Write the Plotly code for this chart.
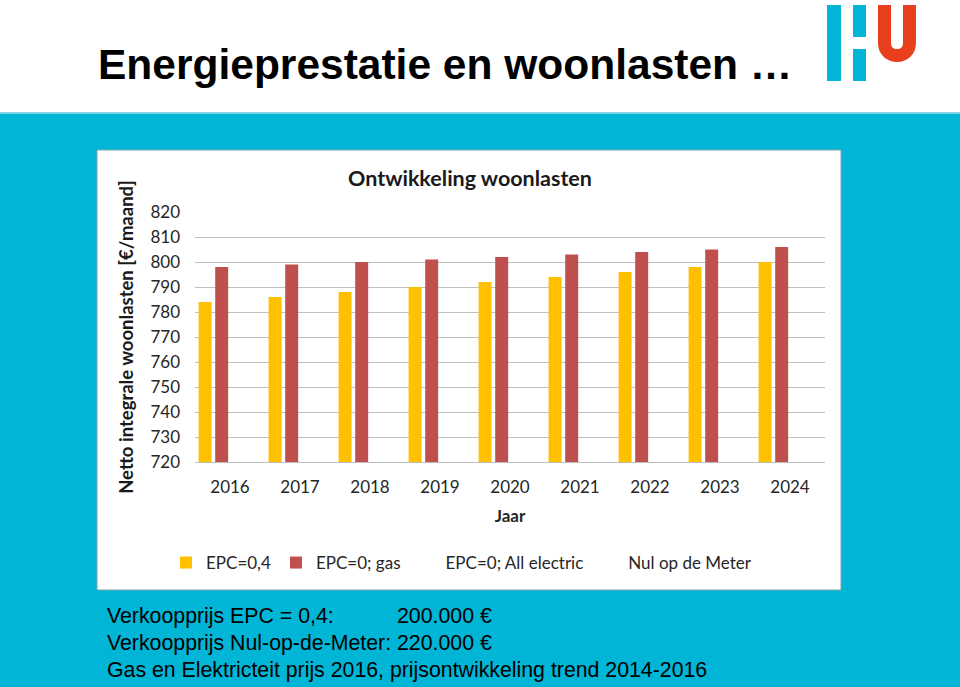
import plotly.graph_objects as go

# data
years = ["2016", "2017", "2018", "2019", "2020", "2021", "2022", "2023", "2024"]
epc_04 = [784, 786, 788, 790, 792, 794, 796, 798, 800]
epc_0_gas = [798, 799, 800, 801, 802, 803, 804, 805, 806]
epc_0_all_electric = [None] * 9  # in legend, no values in the chart
nul_op_de_meter = [None] * 9  # in legend, no values in the chart

y_ticks = [720, 730, 740, 750, 760, 770, 780, 790, 800, 810, 820]

W, H = 960, 687
CYAN = "#00B5D5"
HU_RED = "#E8401C"
CHART_FONT = "Lato"
SLIDE_FONT = "Liberation Sans, Arial"


def px_x(x):
    # pixel -> paper coordinate (margins are zero so paper == whole page)
    return x / W


def px_y(y):
    return 1 - y / H


def rect(x0, y0, x1, y1, color, line_color=None, layer="below"):
    return dict(
        type="rect", xref="paper", yref="paper",
        x0=px_x(x0), x1=px_x(x1), y0=px_y(y1), y1=px_y(y0),
        fillcolor=color,
        line=dict(color=line_color or color, width=1 if line_color else 0),
        layer=layer,
    )


series = [
    ("EPC=0,4", epc_04, "#FFC000"),
    ("EPC=0; gas", epc_0_gas, "#C0504D"),
    ("EPC=0; All electric", epc_0_all_electric, "rgba(0,0,0,0)"),
    ("Nul op de Meter", nul_op_de_meter, "rgba(0,0,0,0)"),
]

fig = go.Figure()
for name, values, color in series:
    fig.add_trace(go.Bar(x=years, y=values, name=name, marker_color=color, marker_line_width=0))

shapes = [
    # white header band
    rect(0, 0, W, 112, "white"),
    rect(0, 112, W, 114, "#7fd3e6"),
    # white chart box with thin border
    rect(97, 150, 841, 590, "white", line_color="#7fa6ab"),
    # HU logo
    rect(827, 5, 841, 81, CYAN, layer="above"),
    rect(853, 5, 866, 37, CYAN, layer="above"),
    rect(853, 49, 866, 81, CYAN, layer="above"),
]

# the red U of the logo as a thick stroked path
u_pts = [(884.5, 5), (884.5, 43), (884.5, 59.7), (909.5, 59.7), (909.5, 43), (909.5, 5)]
p = [f"{px_x(a):.5f},{px_y(b):.5f}" for a, b in u_pts]
u_path = f"M{p[0]} L{p[1]} C{p[2]} {p[3]} {p[4]} L{p[5]}"
shapes.append(dict(type="path", xref="paper", yref="paper", path=u_path,
                   line=dict(color=HU_RED, width=13), layer="above"))

annotations = [
    dict(text="<b>Energieprestatie en woonlasten …</b>", x=px_x(96), y=px_y(64),
         xanchor="left", yanchor="middle", font=dict(family=SLIDE_FONT, size=42.5, color="black")),
    dict(text="<b>Ontwikkeling woonlasten</b>", x=px_x(470), y=px_y(178),
         xanchor="center", yanchor="middle", font=dict(family=CHART_FONT, size=21.5, color="#1a1a1a")),
    dict(text="Verkoopprijs EPC = 0,4:", x=px_x(105), y=px_y(616),
         xanchor="left", yanchor="middle", font=dict(family=SLIDE_FONT, size=21.3, color="black")),
    dict(text="200.000 €", x=px_x(395), y=px_y(616),
         xanchor="left", yanchor="middle", font=dict(family=SLIDE_FONT, size=21.3, color="black")),
    dict(text="Verkoopprijs Nul-op-de-Meter: 220.000 €", x=px_x(105), y=px_y(643),
         xanchor="left", yanchor="middle", font=dict(family=SLIDE_FONT, size=21.3, color="black")),
    dict(text="Gas en Elektricteit prijs 2016, prijsontwikkeling trend 2014-2016", x=px_x(105), y=px_y(670),
         xanchor="left", yanchor="middle", font=dict(family=SLIDE_FONT, size=21.3, color="black")),
]
for a in annotations:
    a.update(xref="paper", yref="paper", showarrow=False)

fig.update_layout(
    width=W, height=H,
    margin=dict(l=0, r=0, t=0, b=0, pad=0, autoexpand=False),
    paper_bgcolor=CYAN,
    plot_bgcolor="rgba(0,0,0,0)",
    barmode="group",
    bargap=0.05,
    bargroupgap=0.22,
    shapes=shapes,
    annotations=annotations,
    showlegend=True,
    legend=dict(
        orientation="h",
        x=px_x(166), y=px_y(563),
        xanchor="left", yanchor="middle",
        font=dict(family=CHART_FONT, size=17, color="#262626"),
        bgcolor="rgba(0,0,0,0)",
        traceorder="normal",
    ),
)

fig.update_xaxes(
    domain=[px_x(195), px_x(825)],
    showgrid=False,
    showline=True, linecolor="#bfbfbf", linewidth=1,
    tickfont=dict(family=CHART_FONT, size=17, color="#262626"),
    ticklabelstandoff=10,
    title=dict(text="<b>Jaar</b>", font=dict(family=CHART_FONT, size=17, color="#262626"), standoff=13),
    automargin=False,
    fixedrange=True,
)

fig.update_yaxes(
    domain=[px_y(462), px_y(212)],
    range=[720, 820],
    tickvals=y_ticks,
    showgrid=True, gridcolor="#bfbfbf", gridwidth=1,
    zeroline=False,
    tickfont=dict(family=CHART_FONT, size=17, color="#262626"),
    ticklabelstandoff=14,
    title=dict(text="<b>Netto integrale woonlasten [€/maand]</b>",
               font=dict(family=CHART_FONT, size=18.5, color="#1a1a1a"), standoff=11),
    automargin=False,
    fixedrange=True,
)

# the slide fills the whole page, so drop the browser's default body margin
# and hide the modebar, which would sit on top of the logo
fig.write_html(
    "out.html",
    config={"displayModeBar": False},
    post_script="document.body.style.margin = '0';",
)
